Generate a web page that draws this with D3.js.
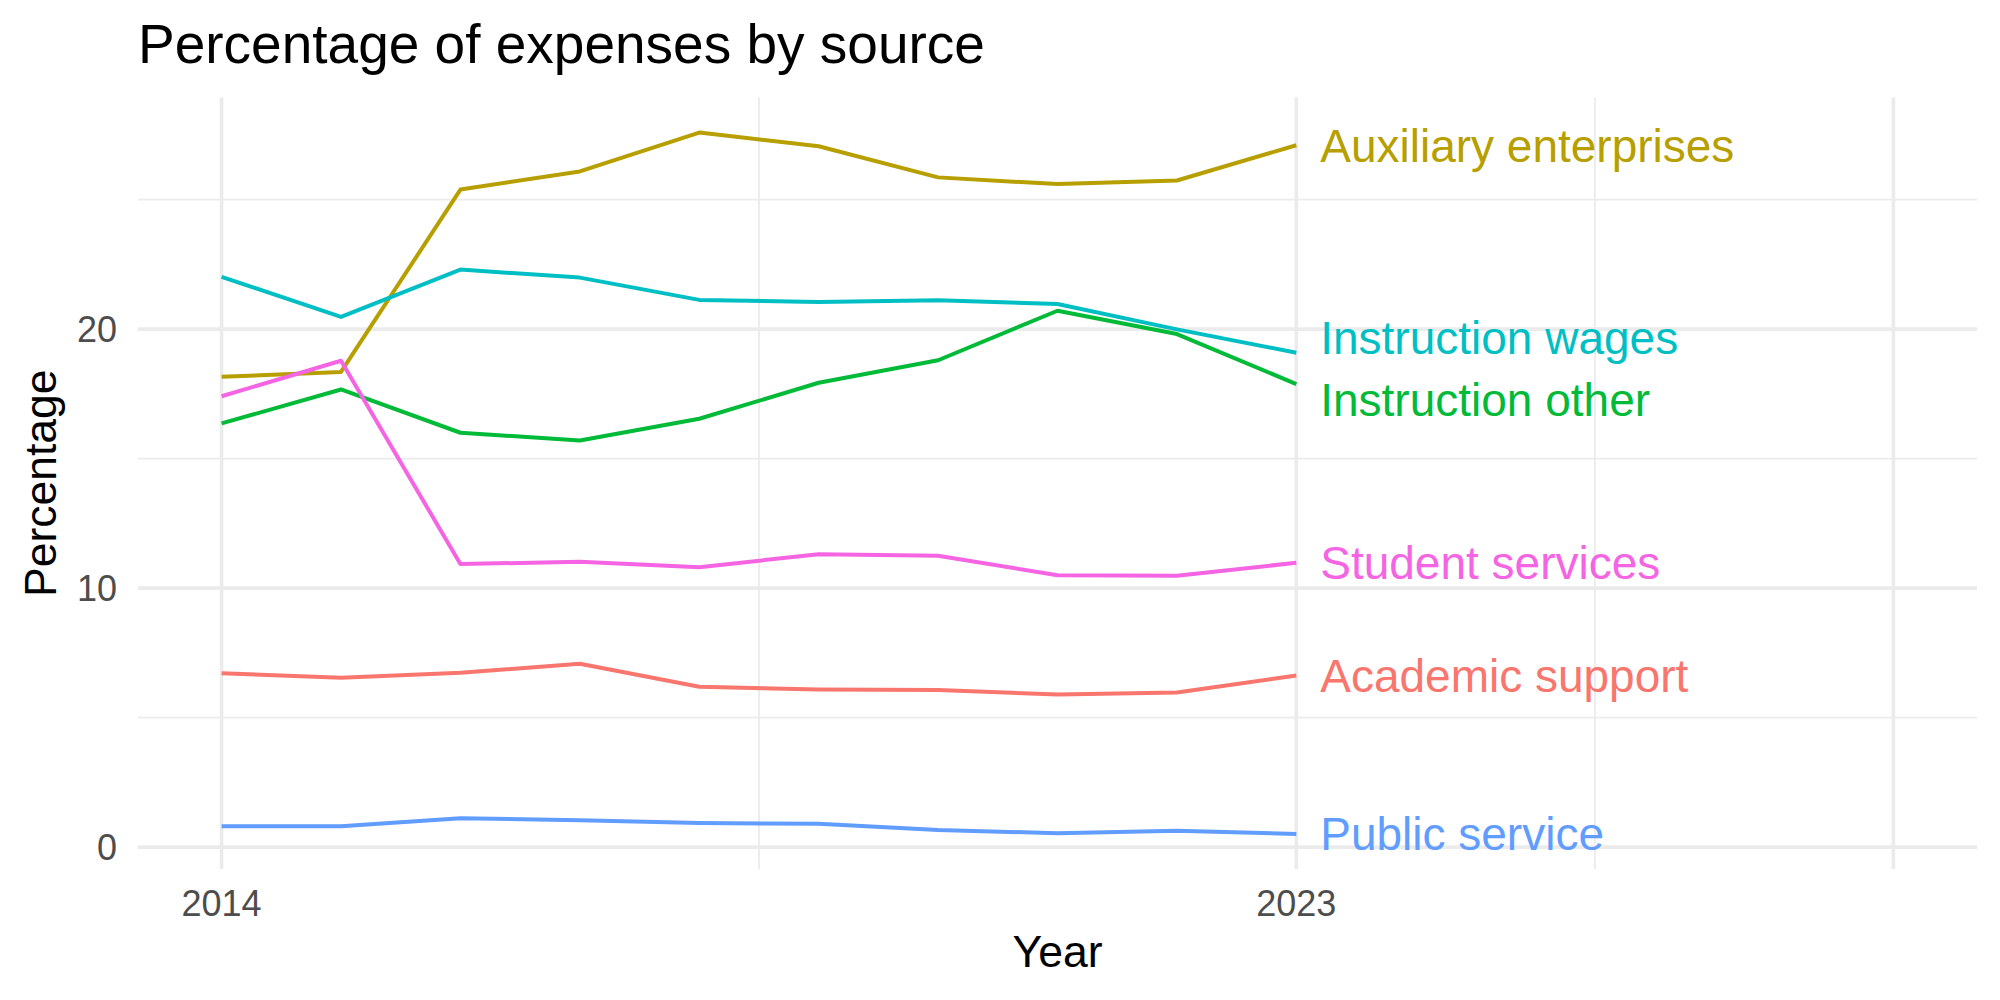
<!DOCTYPE html>
<html>
<head>
<meta charset="utf-8">
<script src="https://cdn.jsdelivr.net/npm/d3@7"></script>
<style>
  html, body { margin: 0; padding: 0; background: #fff; }
  svg text { font-family: "Liberation Sans", Arial, Helvetica, sans-serif; }
</style>
</head>
<body>
<div id="chart"></div>
<script>
// data
const years = [2014, 2015, 2016, 2017, 2018, 2019, 2020, 2021, 2022, 2023];
const academicSupport      = [6.71, 6.54, 6.73, 7.08, 6.19, 6.09, 6.07, 5.89, 5.97, 6.63];
const auxiliaryEnterprises = [18.16, 18.35, 25.39, 26.09, 27.59, 27.06, 25.86, 25.60, 25.74, 27.10];
const instructionOther     = [16.36, 17.67, 16.00, 15.70, 16.54, 17.93, 18.80, 20.71, 19.81, 17.88];
const instructionWages     = [22.02, 20.47, 22.30, 21.99, 21.13, 21.05, 21.12, 20.97, 19.99, 19.09];
const publicService        = [0.81, 0.81, 1.12, 1.04, 0.93, 0.90, 0.66, 0.54, 0.63, 0.51];
const studentServices      = [17.41, 18.78, 10.93, 11.02, 10.81, 11.31, 11.25, 10.50, 10.48, 10.98];

const seriesNames = ['Academic support', 'Auxiliary enterprises', 'Instruction other',
                     'Instruction wages', 'Public service', 'Student services'];
const seriesValues = [academicSupport, auxiliaryEnterprises, instructionOther,
                      instructionWages, publicService, studentServices];
const seriesColors = ['#F8766D', '#B79F00', '#00BA38', '#00BFC4', '#619CFF', '#F564E3'];

const xLimits = [2014, 2028];
const xBreaks = [2014, 2023, 2028];
const xBreakLabels = ['2014', '2023', ''];
const xMinorBreaks = [2018.5, 2025.5];
const yBreaks = [0, 10, 20];
const yMinorBreaks = [5, 15, 25];

const W = 2000, H = 1000;
const panel = { left: 138, right: 1977, top: 97.5, bottom: 869 };

const series = seriesNames.map((name, i) => ({
  name,
  color: seriesColors[i],
  points: years.map((yr, j) => ({ year: yr, value: seriesValues[i][j] }))
}));

const svg = d3.select('#chart').append('svg')
  .attr('width', W).attr('height', H);

svg.append('rect').attr('width', W).attr('height', H).attr('fill', '#fff');

// scales with ggplot-like 5% expansion
const xPad = (xLimits[1] - xLimits[0]) * 0.05;
const x = d3.scaleLinear()
  .domain([xLimits[0] - xPad, xLimits[1] + xPad])
  .range([panel.left, panel.right]);

const allVals = seriesValues.flat();
const [yMin, yMax] = d3.extent(allVals);
const yPad = (yMax - yMin) * 0.05;
const y = d3.scaleLinear()
  .domain([yMin - yPad, yMax + yPad])
  .range([panel.bottom, panel.top]);

// grid
const grid = svg.append('g').attr('stroke', '#EBEBEB').attr('fill', 'none');
grid.selectAll('.ymin').data(yMinorBreaks).enter().append('line')
  .attr('x1', panel.left).attr('x2', panel.right)
  .attr('y1', d => y(d)).attr('y2', d => y(d))
  .attr('stroke-width', 1.8);
grid.selectAll('.xmin').data(xMinorBreaks).enter().append('line')
  .attr('y1', panel.top).attr('y2', panel.bottom)
  .attr('x1', d => x(d)).attr('x2', d => x(d))
  .attr('stroke-width', 1.8);
grid.selectAll('.ymaj').data(yBreaks).enter().append('line')
  .attr('x1', panel.left).attr('x2', panel.right)
  .attr('y1', d => y(d)).attr('y2', d => y(d))
  .attr('stroke-width', 3.6);
grid.selectAll('.xmaj').data(xBreaks).enter().append('line')
  .attr('y1', panel.top).attr('y2', panel.bottom)
  .attr('x1', d => x(d)).attr('x2', d => x(d))
  .attr('stroke-width', 3.6);

// lines
const line = d3.line().x(d => x(d.year)).y(d => y(d.value));
svg.append('g').selectAll('path').data(series).enter().append('path')
  .attr('d', d => line(d.points))
  .attr('fill', 'none')
  .attr('stroke', d => d.color)
  .attr('stroke-width', 4)
  .attr('stroke-linejoin', 'round');

// end labels, pushed apart a little where they collide
const labels = series.map(s => {
  const last = s.points[s.points.length - 1];
  return { name: s.name, color: s.color, year: last.year, py: y(last.value) };
}).sort((a, b) => a.py - b.py);
const minGap = 62;
for (let iter = 0; iter < 50; iter++) {
  for (let i = 1; i < labels.length; i++) {
    const gap = labels[i].py - labels[i - 1].py;
    if (gap < minGap) {
      const push = (minGap - gap) / 2;
      labels[i - 1].py -= push;
      labels[i].py += push;
    }
  }
}
svg.append('g').selectAll('text').data(labels).enter().append('text')
  .attr('x', d => x(d.year + 0.2))
  .attr('y', d => d.py)
  .attr('dy', '0.36em')
  .attr('fill', d => d.color)
  .attr('font-size', 46)
  .text(d => d.name);

// axes text
svg.append('g').selectAll('text').data(yBreaks).enter().append('text')
  .attr('x', 117).attr('y', d => y(d)).attr('dy', '0.36em')
  .attr('text-anchor', 'end')
  .attr('fill', '#4D4D4D').attr('font-size', 36)
  .text(d => d);

svg.append('g').selectAll('text').data(xBreaks).enter().append('text')
  .attr('x', d => x(d)).attr('y', 916)
  .attr('text-anchor', 'middle')
  .attr('fill', '#4D4D4D').attr('font-size', 36)
  .text((d, i) => xBreakLabels[i]);

svg.append('text')
  .attr('x', (panel.left + panel.right) / 2).attr('y', 967)
  .attr('text-anchor', 'middle').attr('font-size', 44.5).attr('fill', '#000')
  .text('Year');

svg.append('text')
  .attr('transform', `translate(56,${(panel.top + panel.bottom) / 2}) rotate(-90)`)
  .attr('text-anchor', 'middle').attr('font-size', 44.5).attr('fill', '#000')
  .text('Percentage');

svg.append('text')
  .attr('x', panel.left).attr('y', 63)
  .attr('font-size', 55).attr('fill', '#000')
  .text('Percentage of expenses by source');
</script>
</body>
</html>
